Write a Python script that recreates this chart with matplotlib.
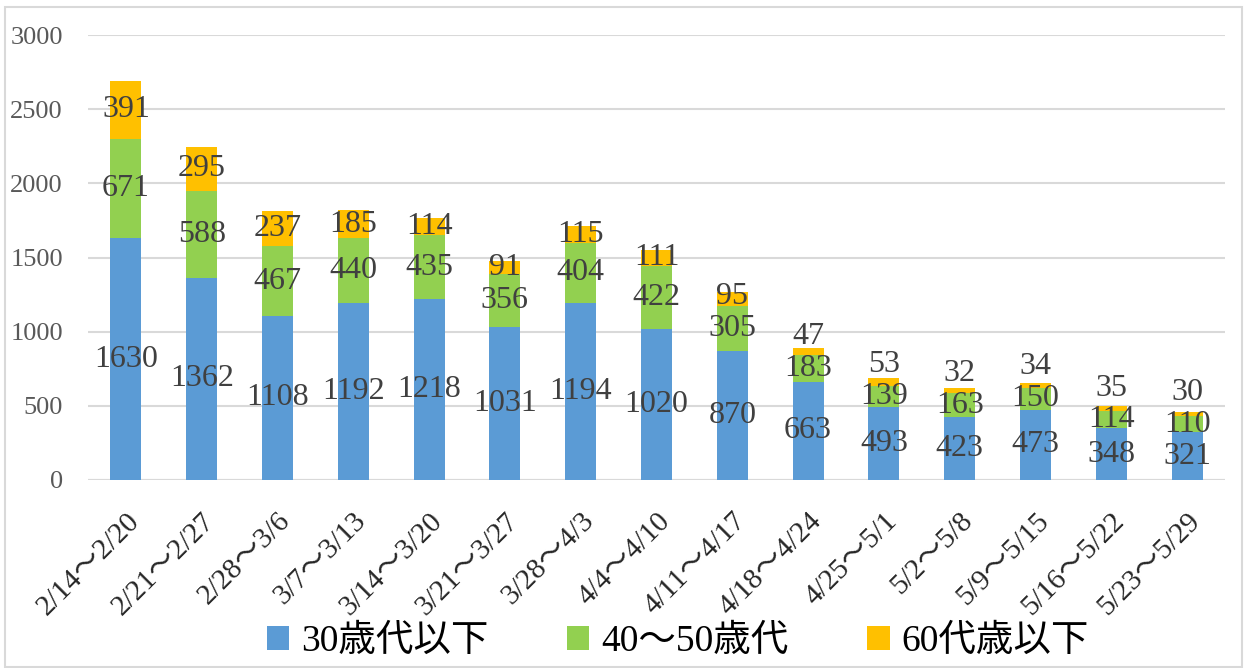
import numpy as np
import matplotlib.pyplot as plt
from matplotlib.patches import Rectangle

plt.rcParams['font.family'] = ['Liberation Serif', 'Noto Sans CJK JP']

# weekly periods
weeks = ["2/14～2/20", "2/21～2/27", "2/28～3/6", "3/7～3/13", "3/14～3/20",
         "3/21～3/27", "3/28～4/3", "4/4～4/10", "4/11～4/17", "4/18～4/24",
         "4/25～5/1", "5/2～5/8", "5/9～5/15", "5/16～5/22", "5/23～5/29"]

under30 = [1630, 1362, 1108, 1192, 1218, 1031, 1194, 1020, 870, 663, 493, 423, 473, 348, 321]
age40_50 = [671, 588, 467, 440, 435, 356, 404, 422, 305, 183, 139, 163, 150, 114, 110]
over60 = [391, 295, 237, 185, 114, 91, 115, 111, 95, 47, 53, 32, 34, 35, 30]

series_names = ["30歳代以下", "40～50歳代", "60代歳以下"]
colors = ["#5B9BD5", "#92D050", "#FFC000"]

fig = plt.figure(figsize=(12.45, 6.68), dpi=100)
ax = fig.add_axes([88/1245, 1 - 480/668, (1225-88)/1245, (480-35)/668])

# light frame around the whole chart
fig.patches.append(Rectangle((5/1245, 1/668), 1237/1245, 660/668, transform=fig.transFigure,
                             fill=False, edgecolor="#D9D9D9", linewidth=1.5))

x = np.arange(len(weeks))
width = 0.41
bottom = np.zeros(len(weeks))
label_y = []
handles = []
for vals, name, c in zip([under30, age40_50, over60], series_names, colors):
    vals = np.array(vals)
    h = ax.bar(x, vals, width, bottom=bottom, color=c, label=name, zorder=3)
    handles.append(h)
    label_y.append(bottom + vals / 2)
    bottom = bottom + vals

# push label up if it would collide with the one below
min_gap = 215
for k in range(1, 3):
    label_y[k] = np.maximum(label_y[k], label_y[k-1] + min_gap)

for vals, ys in zip([under30, age40_50, over60], label_y):
    for xi, v, yy in zip(x, vals, ys):
        ax.text(xi, yy, str(v), ha="center", va="center", fontsize=23,
                color="#404040", zorder=4)

ax.set_xlim(-0.5, len(weeks) - 0.5)
ax.set_ylim(0, 3000)
ax.set_yticks(range(0, 3001, 500))
ax.yaxis.grid(True, color="#D9D9D9", linewidth=1.5, zorder=0)
ax.set_axisbelow(True)
for s in ax.spines.values():
    s.set_visible(False)
ax.axhline(0, color="#D9D9D9", linewidth=1.5, zorder=2)
ax.tick_params(axis="y", length=0, pad=18, labelsize=19, labelcolor="#595959")
ax.tick_params(axis="x", length=0, pad=20, labelsize=21, labelcolor="#262626")
ax.set_xticks(x)
ax.set_xticklabels(weeks, rotation=45, ha="right", rotation_mode="anchor")

fig.legend(handles=handles, labels=series_names, loc="lower center",
           bbox_to_anchor=(678/1245, -10/668), ncol=3, frameon=False, borderpad=0,
           fontsize=27, handlelength=0.59, handleheight=0.59, columnspacing=2.1,
           handletextpad=0.32)

fig.savefig("out.png", dpi=100)
